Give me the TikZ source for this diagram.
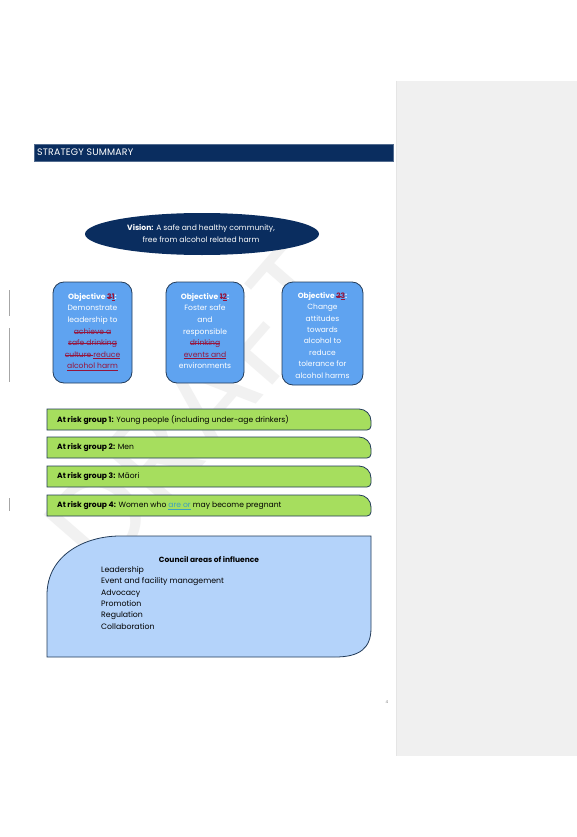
\documentclass[tikz,border=0pt]{standalone}
\usepackage{fontspec}
\setmainfont{Poppins}
\usetikzlibrary{shapes.geometric}
\definecolor{navy}{RGB}{10,45,95}
\definecolor{objblue}{RGB}{95,163,240}
\definecolor{riskgreen}{RGB}{166,222,94}
\definecolor{councilblue}{RGB}{180,211,250}
\definecolor{edge}{RGB}{35,60,90}
\definecolor{delred}{RGB}{150,20,60}
\definecolor{insteal}{RGB}{60,160,190}
\definecolor{panel}{RGB}{240,240,240}
\newcommand{\del}[1]{{\color{delred}\setbox0\hbox{#1}\rlap{\rule[0.27em]{\wd0}{0.45pt}}\box0}}
\newcommand{\ins}[1]{{\color{delred}\setbox0\hbox{#1}\rlap{\rule[-0.2em]{\wd0}{0.45pt}}\box0}}
\newcommand{\insb}[1]{{\color{insteal}\setbox0\hbox{#1}\rlap{\rule[-0.2em]{\wd0}{0.45pt}}\box0}}
\tikzset{
  objbox/.style={draw=edge, line width=0.8pt, fill=objblue, rounded corners=11pt},
  objtext/.style={text=white, align=center, font=\fontsize{7.6}{11.6}\selectfont, inner sep=0pt, anchor=north},
  riskbar/.style={draw=edge, line width=0.8pt, fill=riskgreen},
  risktext/.style={font=\fontsize{7.6}{8}\selectfont, anchor=west, inner sep=0pt},
  listtext/.style={font=\fontsize{7.8}{11.45}\selectfont, align=left, anchor=north west, inner sep=0pt},
  changebar/.style={draw=gray!70, line width=1pt}
}
\begin{document}
\begin{tikzpicture}[x=1pt,y=-1pt]
\useasboundingbox (0,0) rectangle (577,837);
\fill[white] (0,0) rectangle (577,837);
% side panel
\fill[panel] (397,81) rectangle (577,756);
\draw[gray!20, line width=0.6pt] (396,81) -- (396,756);
% watermark
\node[text=gray!11, font=\fontsize{125}{125}\selectfont, rotate=49, inner sep=0pt] (wm) at (195,408) {DRAFT};
% header
\node[fill=navy, draw=navy!70!white, line width=0.6pt, minimum width=359pt, minimum height=17pt, inner sep=0pt, anchor=north west] (hdr) at (34,144) {};
\node[text=white, font=\fontsize{9.4}{10}\selectfont\addfontfeatures{LetterSpace=2}, anchor=west, inner sep=0pt] (hdrt) at (37,152.5) {STRATEGY SUMMARY};
% vision
\node[ellipse, fill=navy, minimum width=234pt, minimum height=42pt, inner sep=0pt] (vision) at (202,234) {};
\node[text=white, align=center, font=\fontsize{7.6}{12.8}\selectfont, inner sep=0pt] (visiont) at (201,233.5) {\textbf{Vision:} A safe and healthy community,\\ free from alcohol related harm};
% objectives
\draw[objbox] (53,282) rectangle (132,383);
\coordinate (o1) at (92.5,293);
\node[objtext] (o1t) at (o1) {\textbf{Objective \del{3}\ins{1}:}\\ Demonstrate\\ leadership to\\ \del{achieve a}\\ \del{safe drinking}\\ \del{culture }\ins{reduce}\\ \ins{alcohol harm}};
\draw[objbox] (166,282) rectangle (244,383);
\coordinate (o2) at (205,293);
\node[objtext] (o2t) at (o2) {\textbf{Objective \del{1}\ins{2}:}\\ Foster safe\\ and\\ responsible\\ \del{drinking}\\ \ins{events and}\\ environments};
\draw[objbox] (282,282) rectangle (363,385);
\coordinate (o3) at (322.5,292);
\node[objtext, font=\fontsize{7.5}{11.4}\selectfont] (o3t) at (o3) {\textbf{Objective \del{2}\ins{3}:}\\ Change\\ attitudes\\ towards\\ alcohol to\\ reduce\\ tolerance for\\ alcohol harms};
% risk groups
\foreach \y/\n/\t in {409/1/{Young people (including under-age drinkers)}, 437/2/{Men}, 466/3/{Māori}, 495/4/{Women who \insb{are or} may become pregnant}}{
  \draw[riskbar] (47,\y) -- (359,\y) arc[start angle=90, end angle=0, radius=12pt] -- (371,\y+17) arc[start angle=0, end angle=-90, radius=4pt] -- (47,\y+21) -- cycle;
  \node[risktext] (r\n) at (57,\y+10.5) {\textbf{At risk group \n:} \t};
}
% council
\draw[draw=edge, line width=0.8pt, fill=councilblue] (47,657) -- (47,595) .. controls (47,555) and (85,536) .. (120,536) -- (371,536) -- (371,628) .. controls (371,648) and (360,657) .. (335,657) -- cycle;
\node[font=\fontsize{7.5}{8}\selectfont\bfseries, inner sep=0pt] (ctitle) at (209,560) {Council areas of influence};
\node[listtext] (clist) at (101,566) {Leadership\\ Event and facility management\\ Advocacy\\ Promotion\\ Regulation\\ Collaboration};
% change bars
\draw[changebar] (9,290) -- (9,316);
\draw[changebar] (9,328) -- (9,382);
\draw[changebar] (9,498) -- (9,511);
% page number
\node[text=gray, font=\fontsize{4}{5}\selectfont, inner sep=0pt] (pg) at (387,702) {4};
\end{tikzpicture}
\end{document}
